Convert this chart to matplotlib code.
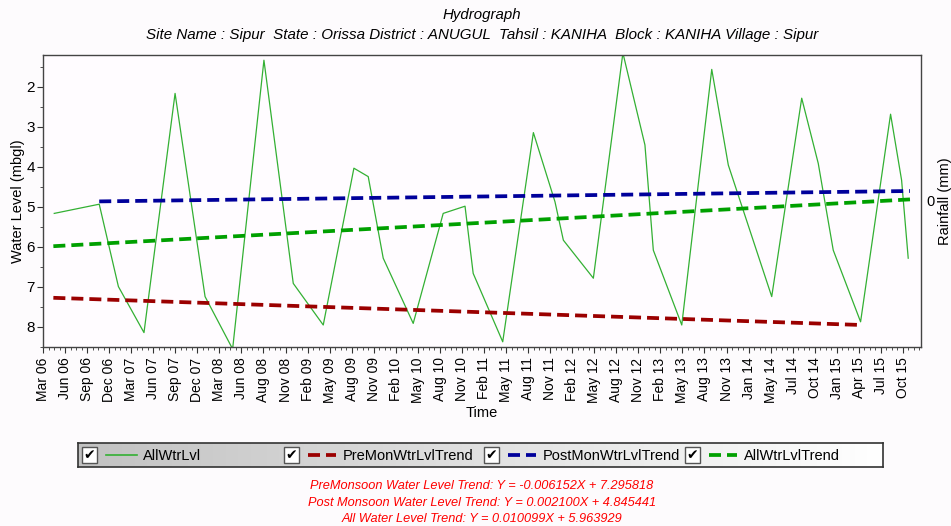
import numpy as np
import matplotlib
matplotlib.use("Agg")
import matplotlib.pyplot as plt
from matplotlib.ticker import MultipleLocator, AutoMinorLocator
from matplotlib.patches import Rectangle

plt.rcParams['font.family'] = ['Liberation Sans', 'DejaVu Sans']

# tick labels (equally spaced on the time axis)
tick_labels = ["Mar 06", "Jun 06", "Sep 06", "Dec 06", "Mar 07", "Jun 07", "Sep 07", "Dec 07",
               "Mar 08", "Jun 08", "Aug 08", "Nov 08", "Feb 09", "May 09", "Aug 09", "Nov 09",
               "Feb 10", "May 10", "Aug 10", "Nov 10", "Feb 11", "May 11", "Aug 11", "Nov 11",
               "Feb 12", "May 12", "Aug 12", "Nov 12", "Feb 13", "May 13", "Aug 13", "Nov 13",
               "Jan 14", "May 14", "Jul 14", "Oct 14", "Jan 15", "Apr 15", "Jul 15", "Oct 15"]

# observed water level (position on time axis in tick units, depth in mbgl)
obs_pos = [0.51, 2.55, 3.42, 4.58, 5.99, 7.35, 8.60, 10.02, 11.35, 12.71, 14.10, 14.75,
           15.43, 16.79, 18.15, 19.14, 19.51, 20.85, 22.24, 23.22, 23.60, 24.96, 26.30,
           27.30, 27.68, 28.97, 30.33, 31.08, 33.05, 34.41, 35.16, 35.84, 37.08, 38.44,
           38.94, 39.24]
obs_lvl = [5.16, 4.93, 6.99, 8.14, 2.16, 7.24, 8.55, 1.33, 6.91, 7.95, 4.03, 4.24,
           6.28, 7.91, 5.16, 4.98, 6.66, 8.37, 3.14, 4.87, 5.83, 6.78, 1.15,
           3.45, 6.08, 7.95, 1.56, 3.95, 7.24, 2.28, 3.91, 6.08, 7.87, 2.68,
           4.33, 6.28]

# trend lines (start/end)
pre_pos, pre_lvl = [0.47, 37.13], [7.27, 7.95]
post_pos, post_lvl = [2.55, 39.32], [4.86, 4.60]
all_pos, all_lvl = [0.47, 39.32], [5.98, 4.81]

equations = ["PreMonsoon Water Level Trend: Y = -0.006152X + 7.295818",
             "Post Monsoon Water Level Trend: Y = 0.002100X + 4.845441",
             "All Water Level Trend: Y = 0.010099X + 5.963929"]

fig = plt.figure(figsize=(9.51, 5.26), dpi=100)
fig.patch.set_facecolor('#fdfbfd')
ax = fig.add_axes([43/951, 1-347/526, 878/951, 292/526])
ax.set_facecolor('#fffcff')

ax.plot(obs_pos, obs_lvl, color='#33b033', lw=0.9, label='AllWtrLvl')
ax.plot(pre_pos, pre_lvl, color='#9b0000', lw=2.7, dashes=(3.2, 1.6), label='PreMonWtrLvlTrend')
ax.plot(post_pos, post_lvl, color='#00009b', lw=2.7, dashes=(3.2, 1.6), label='PostMonWtrLvlTrend')
ax.plot(all_pos, all_lvl, color='#00a000', lw=2.7, dashes=(3.2, 1.6), label='AllWtrLvlTrend')

ax.set_xlim(0, 39.82)
ax.set_ylim(8.5, 1.2)
ax.set_xticks(range(len(tick_labels)))
ax.set_xticklabels(tick_labels, rotation=90, fontsize=10)
ax.xaxis.set_minor_locator(AutoMinorLocator(4))
ax.yaxis.set_major_locator(MultipleLocator(1))
ax.yaxis.set_minor_locator(MultipleLocator(0.5))
ax.tick_params(axis='both', direction='out', length=4, width=0.8, colors='#333333', labelcolor='black')
ax.tick_params(axis='both', which='minor', length=2.5, width=0.6, colors='#333333')
ax.tick_params(axis='y', labelsize=11, pad=2)
for s in ax.spines.values():
    s.set_color('#444444')
    s.set_linewidth(1.0)
ax.set_ylabel('Water Level (mbgl)', fontsize=10.5, labelpad=1)
ax.set_xlabel('Time', fontsize=10.5, labelpad=2)

ax2 = ax.twinx()
ax2.set_ylim(-1, 1)
ax2.set_yticks([0])
ax2.tick_params(axis='y', length=0, labelsize=10.5, pad=4)
ax2.set_ylabel('Rainfall (mm)', fontsize=10.5, labelpad=2)
for s in ax2.spines.values():
    s.set_visible(False)

fig.text(482/951, 1-15/526, 'Hydrograph', ha='center', va='center', fontsize=10.8, style='italic')
fig.text(482/951, 1-35/526,
         'Site Name : Sipur  State : Orissa District : ANUGUL  Tahsil : KANIHA  Block : KANIHA Village : Sipur',
         ha='center', va='center', fontsize=10.9, style='italic')

# legend strip
lax = fig.add_axes([78/951, 1-467/526, 805/951, 24/526])
lax.set_xlim(0, 805)
lax.set_ylim(0, 24)
grad = np.linspace(0.76, 1.0, 256).reshape(1, -1)
lax.imshow(np.dstack([grad, grad, grad]), extent=[0, 805, 0, 24], aspect='auto')
lax.set_xticks([])
lax.set_yticks([])
for s in lax.spines.values():
    s.set_color('#333333')
    s.set_linewidth(1.2)
entry_x = [4, 206, 406, 607]
for x0, line in zip(entry_x, ax.get_lines()):
    lax.add_patch(Rectangle((x0, 4), 15, 16, facecolor='white', edgecolor='#555555', lw=1.0))
    lax.text(x0 + 7.5, 11.5, '\u2714', ha='center', va='center', fontsize=10,
             family=['DejaVu Sans'], color='black')
    if line.get_linewidth() < 1.5:
        lax.plot([x0 + 24, x0 + 55], [12, 12], color=line.get_color(), lw=1.2)
        tx = x0 + 61
    else:
        lax.plot([x0 + 24, x0 + 52], [12, 12], color=line.get_color(), lw=2.7, dashes=(3.2, 1.6))
        tx = x0 + 59
    lax.text(tx, 11.5, line.get_label(), ha='left', va='center', fontsize=10.5)

for i, eq in enumerate(equations):
    fig.text(482/951, 1-(486 + 16.5*i)/526, eq, ha='center', va='center',
             fontsize=9.2, style='italic', color='#ff0000')

fig.savefig('out.png', dpi=100, facecolor=fig.get_facecolor())
